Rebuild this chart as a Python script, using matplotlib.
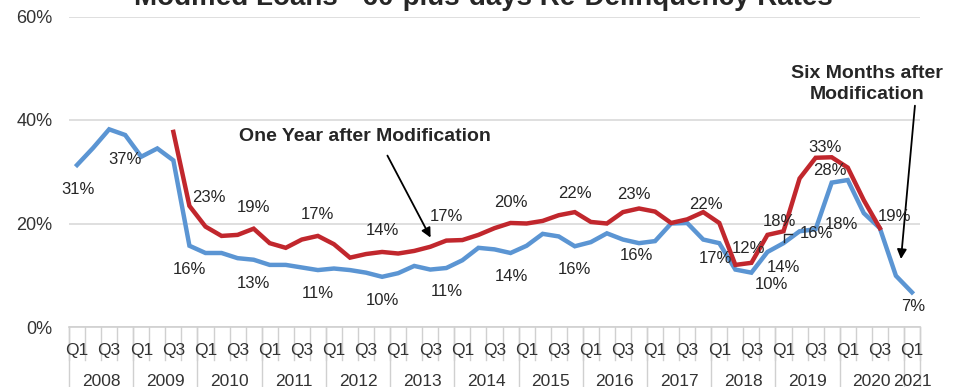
"""
Modified loans re-delinquency rates: recreated line chart.
"""

import matplotlib
matplotlib.use("Agg")
import matplotlib.pyplot as plt
import matplotlib.transforms as mtransforms
import numpy as np

plt.rcParams['font.family'] = ['Liberation Sans', 'DejaVu Sans']

# --- data -------------------------------------------------------------------
years = [2008, 2009, 2010, 2011, 2012, 2013, 2014, 2015, 2016, 2017,
         2018, 2019, 2020, 2021]
quarters_per_year = [4] * 13 + [1]

six_months = [31.3, 34.6, 38.2, 37.1, 32.9, 34.5, 32.2, 15.7, 14.3, 14.3,
              13.3, 13.0, 12.0, 12.0, 11.5, 11.0, 11.3, 11.0, 10.5, 9.7,
              10.4, 11.8, 11.1, 11.4, 12.9, 15.3, 15.0, 14.3, 15.7, 18.0,
              17.5, 15.6, 16.4, 18.1, 16.9, 16.2, 16.6, 20.0, 20.1, 16.9,
              16.2, 11.1, 10.5, 14.5, 16.2, 18.5, 18.9, 27.9, 28.4, 22.0,
              19.1, 9.9, 6.7]

one_year = [None] * 6 + [
    37.7, 23.4, 19.4, 17.6, 17.8, 19.0, 16.2, 15.3, 16.9, 17.6,
    16.0, 13.4, 14.1, 14.5, 14.2, 14.7, 15.5, 16.7, 16.8, 17.8,
    19.1, 20.1, 20.0, 20.5, 21.6, 22.2, 20.3, 20.0, 22.2, 22.9,
    22.3, 20.1, 20.8, 22.2, 20.1, 12.0, 12.4, 17.8, 18.5, 28.7,
    32.7, 32.8, 30.8, 24.5, 19.1] + [None] * 2

# data labels: (series, quarter index, text, dx px, dy px)
labels = [
    ('six', 0, '31%', 1, -24), ('six', 3, '37%', 0, -24),
    ('six', 7, '16%', 0, -24), ('six', 11, '13%', 0, -24),
    ('six', 15, '11%', 0, -23), ('six', 19, '10%', 0, -24),
    ('six', 23, '11%', 0, -23), ('six', 27, '14%', 1, -24),
    ('six', 31, '16%', 0, -23), ('six', 35, '16%', -3, -12),
    ('six', 39, '17%', 12, -19), ('six', 43, '10%', 4, -33),
    ('six', 44, '14%', 0, -24), ('six', 46, '16%', 1, -4),
    ('six', 47, '18%', 10, -42), ('six', 47, '28%', -2, 12),
    ('six', 52, '7%', 1, -14),
    ('one', 7, '23%', 19, 8), ('one', 11, '19%', 0, 21),
    ('one', 15, '17%', 0, 21), ('one', 19, '14%', 0, 21),
    ('one', 23, '17%', 0, 24), ('one', 27, '20%', 0, 20),
    ('one', 31, '22%', 0, 19), ('one', 35, '23%', -5, 14),
    ('one', 39, '22%', 3, 8), ('one', 42, '12%', -3, 14),
    ('one', 44, '18%', -4, 10), ('one', 46, '33%', 9, 10),
    ('one', 50, '19%', 15, 12),
]

BLUE = '#5B95D3'
RED = '#C1272D'
TEXT = '#262626'

n = len(six_months)
x = np.arange(n)
quarter_names = ['Q1', 'Q2', 'Q3', 'Q4']
q_labels = [quarter_names[i % 4] for i in range(n)]

fig = plt.figure(figsize=(9.59, 3.87), dpi=100)
ax = fig.add_axes([69 / 959, 1 - 327 / 387, 851 / 959, 310.5 / 387])

one_arr = np.array([np.nan if v is None else v for v in one_year])
ax.plot(x, six_months, color=BLUE, lw=3.2, solid_joinstyle='miter', zorder=3)
ax.plot(x, one_arr, color=RED, lw=3.2, solid_joinstyle='miter', zorder=4)

ax.set_xlim(-0.5, n - 0.5)
ax.set_ylim(0, 60)
ax.set_yticks([0, 20, 40, 60])
ax.set_yticklabels(['0%', '20%', '40%', '60%'], fontsize=13, color='#333333')
ax.tick_params(axis='y', length=0, pad=12)
ax.grid(axis='y', color='#D9D9D9', lw=1.2, zorder=0)
for s in ['top', 'right', 'left']:
    ax.spines[s].set_visible(False)
ax.spines['bottom'].set_color('#D0D0D0')
ax.spines['bottom'].set_linewidth(1.2)
ax.set_xticks([])

# multi-level category axis
tr = mtransforms.blended_transform_factory(ax.transData, ax.transAxes)
ax_h = 310.5
for i in range(n + 1):
    ax.plot([i - 0.5, i - 0.5], [0, -33 / ax_h], transform=tr,
            color='#D0D0D0', lw=1, clip_on=False)
for i in range(n):
    if i % 4 in (0, 2):
        ax.text(i, -23 / ax_h, q_labels[i], transform=tr, ha='center',
                va='center', fontsize=12.5, color='#333333')
start = 0
for yr, nq in zip(years, quarters_per_year):
    ax.plot([start - 0.5, start - 0.5], [0, -70 / ax_h], transform=tr,
            color='#D0D0D0', lw=1, clip_on=False)
    ax.text(start + (nq - 1) / 2, -54 / ax_h, str(yr), transform=tr,
            ha='center', va='center', fontsize=12.5, color='#333333')
    start += nq
ax.plot([n - 0.5, n - 0.5], [0, -70 / ax_h], transform=tr,
        color='#D0D0D0', lw=1, clip_on=False)

# data labels
series = {'six': six_months, 'one': one_arr}
for name, idx, txt, dx, dy in labels:
    ax.annotate(txt, xy=(idx, series[name][idx]), xytext=(dx, dy),
                textcoords='offset pixels', ha='center', va='center',
                fontsize=12, color=TEXT, zorder=5)

# leader mark near the 2019 labels
ax.plot([44.05, 44.05, 44.55], [16.4, 17.9, 17.9], color=TEXT, lw=1,
        zorder=5)

# callouts
ax.annotate('', xy=(22.1, 16.8), xytext=(19.25, 33.6),
            arrowprops=dict(arrowstyle='-|>', color='black', lw=1.3,
                            mutation_scale=14))
ax.text(17.9, 36.8, 'One Year after Modification', ha='center', va='center',
        fontsize=14, fontweight='bold', color=TEXT)
ax.annotate('', xy=(51.3, 12.6), xytext=(52.2, 43.3),
            arrowprops=dict(arrowstyle='-|>', color='black', lw=1.3,
                            mutation_scale=14))
ax.text(49.2, 47.0, 'Six Months after\nModification', ha='center',
        va='center', fontsize=14, fontweight='bold', color=TEXT,
        linespacing=1.3)

fig.text(483 / 959, 1 - 5 / 387,
         'Modified Loans - 60-plus-days Re-Delinquency Rates',
         ha='center', va='baseline', fontsize=20, fontweight='bold',
         color=TEXT)

fig.savefig('out.png', dpi=100)
